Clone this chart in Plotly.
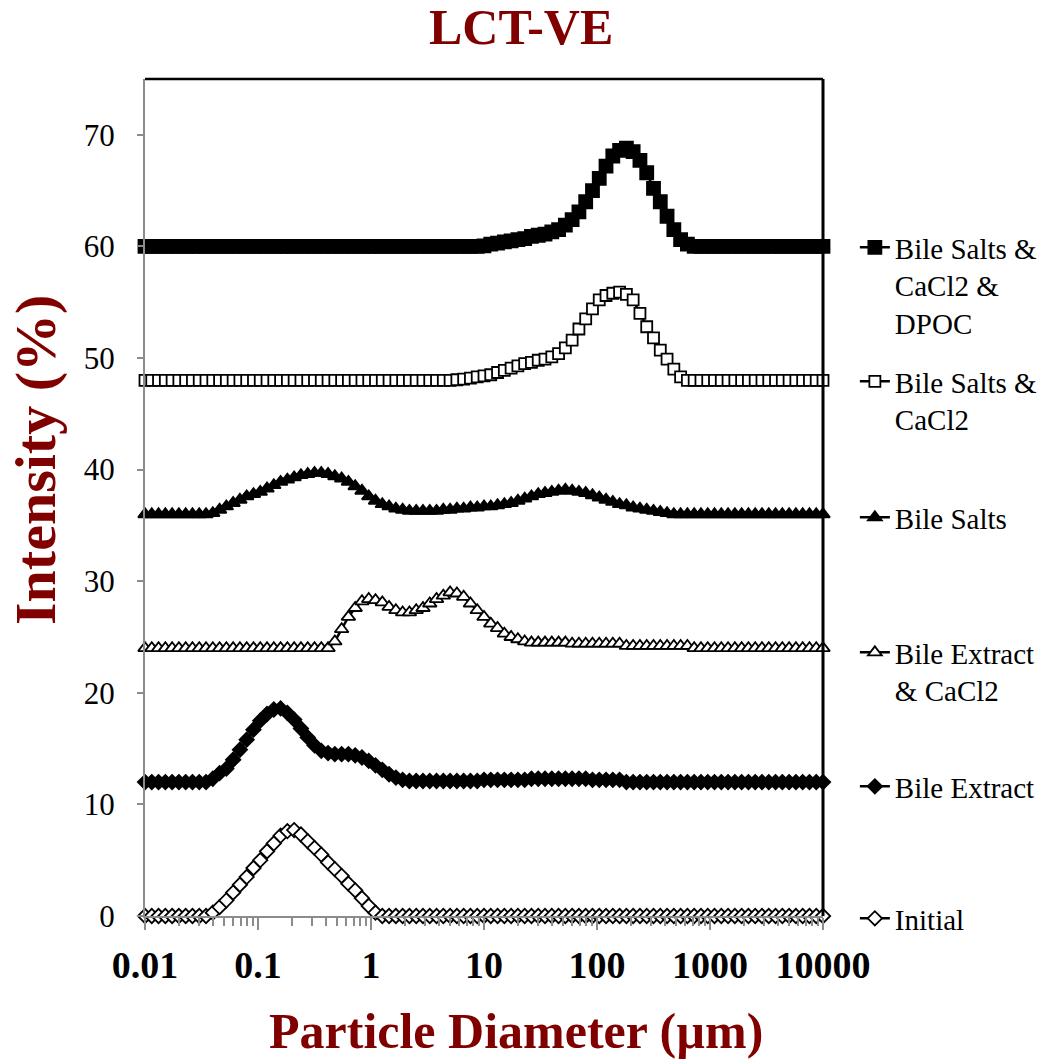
import plotly.graph_objects as go

# Particle diameter bins (µm)
DIAMETER = [
    0.01, 0.01148, 0.01318, 0.01514, 0.01738, 0.01995, 0.02291, 0.0263, 0.0302, 0.03467,
    0.03981, 0.04571, 0.05248, 0.06026, 0.06918, 0.07943, 0.0912, 0.1047, 0.1202, 0.138,
    0.1585, 0.182, 0.2089, 0.2399, 0.2754, 0.3162, 0.3631, 0.4169, 0.4786, 0.5495,
    0.631, 0.7244, 0.8318, 0.955, 1.096, 1.259, 1.445, 1.66, 1.905, 2.188,
    2.512, 2.884, 3.311, 3.802, 4.365, 5.012, 5.754, 6.607, 7.586, 8.71,
    10, 11.48, 13.18, 15.14, 17.38, 19.95, 22.91, 26.3, 30.2, 34.67,
    39.81, 45.71, 52.48, 60.26, 69.18, 79.43, 91.2, 104.7, 120.2, 138,
    158.5, 182, 208.9, 239.9, 275.4, 316.2, 363.1, 416.9, 478.6, 549.5,
    631, 724.4, 831.8, 955, 1096, 1259, 1445, 1660, 1905, 2188,
    2512, 2884, 3311, 3802, 4365, 5012, 5754, 6607, 7586, 8710,
    10000,
]

INITIAL = [
    0, 0, 0, 0, 0, 0, 0, 0, 0, 0,
    0.3, 0.8, 1.4, 2.1, 2.8, 3.5, 4.3, 5.0, 5.8, 6.5,
    7.2, 7.6, 7.7, 7.3, 6.7, 6.1, 5.5, 4.8, 4.2, 3.6,
    2.9, 2.3, 1.6, 0.9, 0.3, 0, 0, 0, 0, 0,
    0, 0, 0, 0, 0, 0, 0, 0, 0, 0,
    0, 0, 0, 0, 0, 0, 0, 0, 0, 0,
    0, 0, 0, 0, 0, 0, 0, 0, 0, 0,
    0, 0, 0, 0, 0, 0, 0, 0, 0, 0,
    0, 0, 0, 0, 0, 0, 0, 0, 0, 0,
    0, 0, 0, 0, 0, 0, 0, 0, 0, 0,
    0,
]

BILE_EXTRACT = [
    12, 12, 12, 12, 12, 12, 12, 12, 12, 12,
    12.3, 12.8, 13.2, 14.0, 14.9, 15.8, 16.7, 17.5, 18.1, 18.5,
    18.6, 18.2, 17.6, 16.8, 16.0, 15.3, 14.8, 14.6, 14.5, 14.5,
    14.5, 14.4, 14.2, 13.9, 13.5, 13.1, 12.7, 12.4, 12.2, 12.1,
    12.1, 12.1, 12.1, 12.1, 12.1, 12.1, 12.1, 12.1, 12.1, 12.1,
    12.2, 12.2, 12.2, 12.2, 12.2, 12.2, 12.2, 12.3, 12.3, 12.3,
    12.3, 12.3, 12.3, 12.3, 12.3, 12.3, 12.2, 12.2, 12.2, 12.2,
    12.2, 12, 12, 12, 12, 12, 12, 12, 12, 12,
    12, 12, 12, 12, 12, 12, 12, 12, 12, 12,
    12, 12, 12, 12, 12, 12, 12, 12, 12, 12,
    12,
]

BILE_EXTRACT_CACL2 = [
    24, 24, 24, 24, 24, 24, 24, 24, 24, 24,
    24, 24, 24, 24, 24, 24, 24, 24, 24, 24,
    24, 24, 24, 24, 24, 24, 24, 24, 24.6, 25.7,
    26.8, 27.6, 28.2, 28.4, 28.3, 28.1, 27.7, 27.4, 27.2, 27.2,
    27.4, 27.6, 28.0, 28.4, 28.7, 29.0, 28.9, 28.6, 28.0, 27.4,
    26.8, 26.2, 25.8, 25.3, 25.0, 24.8, 24.6, 24.5, 24.5, 24.5,
    24.5, 24.5, 24.5, 24.4, 24.4, 24.4, 24.4, 24.4, 24.4, 24.4,
    24.4, 24.2, 24.2, 24.2, 24.2, 24.2, 24.2, 24.2, 24.2, 24.2,
    24.2, 24, 24, 24, 24, 24, 24, 24, 24, 24,
    24, 24, 24, 24, 24, 24, 24, 24, 24, 24,
    24,
]

BILE_SALTS = [
    36, 36, 36, 36, 36, 36, 36, 36, 36, 36,
    36.1, 36.4, 36.7, 37.0, 37.3, 37.6, 37.8, 38.0, 38.3, 38.6,
    38.9, 39.1, 39.3, 39.5, 39.6, 39.7, 39.7, 39.6, 39.4, 39.2,
    38.9, 38.5, 38.1, 37.6, 37.2, 36.9, 36.7, 36.5, 36.4, 36.3,
    36.3, 36.3, 36.3, 36.3, 36.4, 36.4, 36.5, 36.5, 36.6, 36.6,
    36.7, 36.7, 36.8, 36.9, 37.0, 37.2, 37.4, 37.6, 37.8, 37.9,
    38.0, 38.1, 38.2, 38.1, 38.0, 37.9, 37.7, 37.5, 37.3, 37.1,
    36.9, 36.8, 36.6, 36.5, 36.4, 36.3, 36.2, 36.1, 36.0, 36.0,
    36, 36, 36, 36, 36, 36, 36, 36, 36, 36,
    36, 36, 36, 36, 36, 36, 36, 36, 36, 36,
    36,
]

BILE_SALTS_CACL2 = [
    48, 48, 48, 48, 48, 48, 48, 48, 48, 48,
    48, 48, 48, 48, 48, 48, 48, 48, 48, 48,
    48, 48, 48, 48, 48, 48, 48, 48, 48, 48,
    48, 48, 48, 48, 48, 48, 48, 48, 48, 48,
    48, 48, 48, 48, 48, 48, 48.05, 48.1, 48.2, 48.3,
    48.4, 48.5, 48.7, 48.9, 49.1, 49.3, 49.5, 49.6, 49.8, 49.9,
    50.1, 50.4, 50.9, 51.6, 52.6, 53.5, 54.4, 55.2, 55.6, 55.8,
    55.9, 55.7, 55.2, 54.0, 52.8, 51.8, 50.7, 49.9, 49.0, 48.3,
    48, 48, 48, 48, 48, 48, 48, 48, 48, 48,
    48, 48, 48, 48, 48, 48, 48, 48, 48, 48,
    48,
]

BILE_SALTS_CACL2_DPOC = [
    60, 60, 60, 60, 60, 60, 60, 60, 60, 60,
    60, 60, 60, 60, 60, 60, 60, 60, 60, 60,
    60, 60, 60, 60, 60, 60, 60, 60, 60, 60,
    60, 60, 60, 60, 60, 60, 60, 60, 60, 60,
    60, 60, 60, 60, 60, 60, 60, 60, 60, 60,
    60.05, 60.2, 60.3, 60.4, 60.5, 60.6, 60.7, 60.9, 61.0, 61.1,
    61.3, 61.5, 61.9, 62.4, 63.1, 64.0, 65.0, 66.1, 67.2, 68.1,
    68.6, 68.8, 68.5, 67.7, 66.6, 65.2, 64.0, 62.7, 61.5, 60.6,
    60.2, 60, 60, 60, 60, 60, 60, 60, 60, 60,
    60, 60, 60, 60, 60, 60, 60, 60, 60, 60,
    60,
]

SERIES_NAMES = [
    "Initial",
    "Bile Extract",
    "Bile Extract<br>& CaCl2",
    "Bile Salts",
    "Bile Salts &<br>CaCl2",
    "Bile Salts &<br>CaCl2 &<br>DPOC",
]
SERIES_VALUES = [INITIAL, BILE_EXTRACT, BILE_EXTRACT_CACL2, BILE_SALTS,
                 BILE_SALTS_CACL2, BILE_SALTS_CACL2_DPOC]

X_TICK_VALUES = [0.01, 0.1, 1, 10, 100, 1000, 10000]
X_TICK_LABELS = ["0.01", "0.1", "1", "10", "100", "1000", "10000"]

TITLE = "LCT-VE"
X_TITLE = "Particle Diameter (µm)"
Y_TITLE = "Intensity (%)"

# styles
SYMBOLS = ["diamond", "diamond", "triangle-up", "triangle-up", "square", "square"]
FILLS = ["white", "black", "white", "black", "white", "black"]
SIZES = [11, 11, 12, 12, 11, 13]
# legend first-line positions (pixels from top)
LEGEND_PY = [915, 783, 649, 514, 378, 244]

FONT = "Liberation Serif, Times New Roman, serif"
DARKRED = "#800000"
AXIS_GRAY = "#8c8c8c"

PLOT_TOP, PLOT_BOTTOM = 79, 916
PLOT_H = PLOT_BOTTOM - PLOT_TOP

fig = go.Figure()
layout_legends = {}
for k, (name, vals) in enumerate(zip(SERIES_NAMES, SERIES_VALUES)):
    lg = "legend" if k == 0 else f"legend{k+1}"
    fig.add_trace(go.Scatter(
        x=DIAMETER, y=vals, name=name, mode="lines+markers",
        line=dict(color="black", width=2.5),
        marker=dict(symbol=SYMBOLS[k], size=SIZES[k], color=FILLS[k],
                    line=dict(color="black", width=1.8)),
        cliponaxis=False, legend=lg,
    ))
    ypx = LEGEND_PY[k] - 22
    layout_legends[lg] = dict(
        x=1.047, xanchor="left", y=(PLOT_BOTTOM - ypx) / PLOT_H, yanchor="top",
        font=dict(family=FONT, size=29, color="black"),
        bgcolor="rgba(0,0,0,0)", valign="top", itemwidth=30,
    )

fig.update_layout(
    width=1049, height=1059, autosize=False,
    margin=dict(l=145, r=226, t=PLOT_TOP, b=1059 - PLOT_BOTTOM, autoexpand=False),
    paper_bgcolor="white", plot_bgcolor="white",
    showlegend=True,
    **layout_legends,
)

fig.update_xaxes(
    type="log", range=[-2, 4],
    tickmode="array", tickvals=X_TICK_VALUES, ticktext=X_TICK_LABELS,
    ticks="outside", ticklen=12, tickwidth=1.5, tickcolor=AXIS_GRAY,
    minor=dict(ticks="outside", ticklen=8, tickwidth=1.5, tickcolor=AXIS_GRAY,
               dtick="D1", showgrid=False),
    showline=True, linecolor=AXIS_GRAY, linewidth=2,
    showgrid=False, zeroline=False,
    tickfont=dict(family=FONT, size=38, color="black", weight="bold"),
    ticklabelstandoff=2,
)
fig.update_yaxes(
    range=[0, 75], tick0=0, dtick=10,
    ticks="outside", ticklen=6, tickwidth=1.5, tickcolor=AXIS_GRAY,
    showline=True, linecolor=AXIS_GRAY, linewidth=2,
    showgrid=False, zeroline=False,
    tickfont=dict(family=FONT, size=31, color="black"),
    ticklabelstandoff=16,
)

fig.add_shape(type="line", xref="paper", yref="paper", x0=0, x1=1, y0=1, y1=1,
              line=dict(color="black", width=2.5))
fig.add_shape(type="line", xref="paper", yref="paper", x0=1, x1=1, y0=0, y1=1,
              line=dict(color="black", width=3))

PLOT_L, PLOT_W = 145, 678
fig.add_annotation(text=TITLE, xref="paper", yref="paper",
                   x=(521 - PLOT_L) / PLOT_W, y=(PLOT_BOTTOM - 27) / PLOT_H,
                   xanchor="center", yanchor="middle", showarrow=False,
                   font=dict(family=FONT, size=50, color=DARKRED, weight="bold"))
fig.add_annotation(text=X_TITLE, xref="paper", yref="paper",
                   x=(516 - PLOT_L) / PLOT_W, y=(PLOT_BOTTOM - 1031) / PLOT_H,
                   xanchor="center", yanchor="middle", showarrow=False,
                   font=dict(family=FONT, size=50, color=DARKRED, weight="bold"))
fig.add_annotation(text=Y_TITLE, xref="paper", yref="paper",
                   x=(36 - PLOT_L) / PLOT_W, y=(PLOT_BOTTOM - 460) / PLOT_H,
                   xanchor="center", yanchor="middle", textangle=-90, showarrow=False,
                   font=dict(family=FONT, size=58, color=DARKRED, weight="bold"))

fig.write_html("out.html")
